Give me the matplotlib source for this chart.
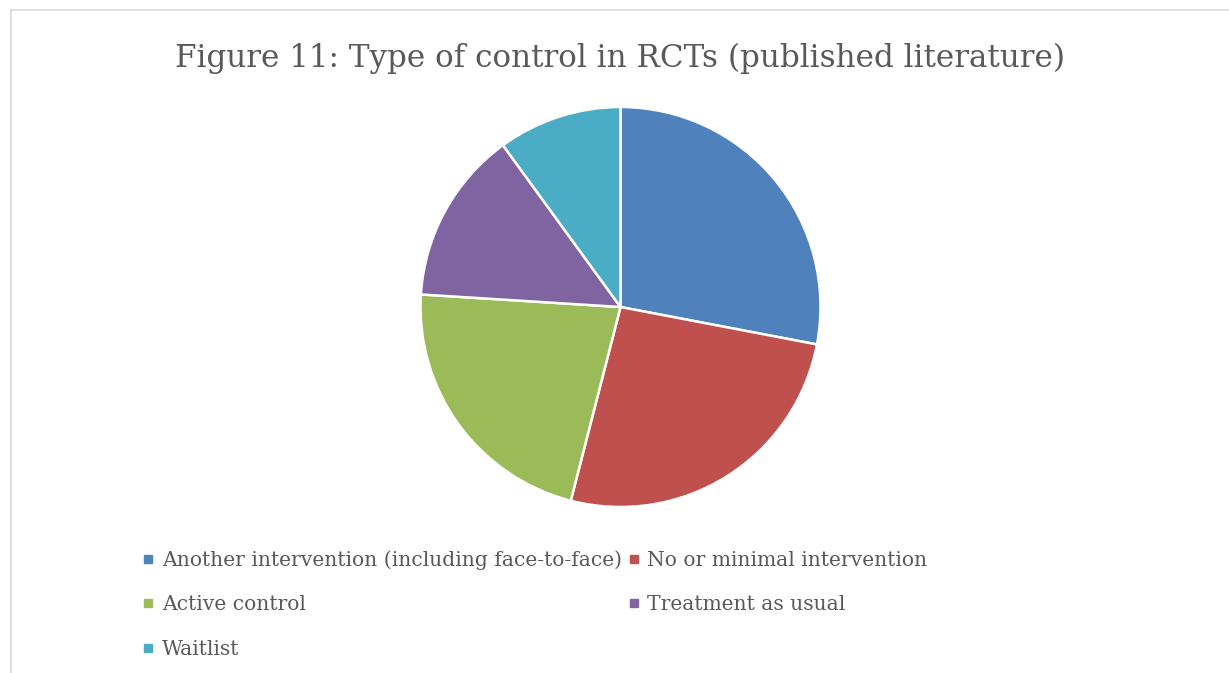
import matplotlib
matplotlib.use("Agg")
import matplotlib.pyplot as plt
from matplotlib.lines import Line2D

# control types reported across published RCTs
categories = [
    "Another intervention (including face-to-face)",
    "No or minimal intervention",
    "Active control",
    "Treatment as usual",
    "Waitlist",
]
counts = [14, 13, 11, 7, 5]
colors = ["#4F81BD", "#C0504D", "#9BBB59", "#8064A2", "#4BACC6"]

W, H = 1229, 673
fig = plt.figure(figsize=(W / 100, H / 100), dpi=100)
fig.patch.set_facecolor("white")

# chart-area border (top and left visible)
fig.add_artist(Line2D([10.5 / W, 1.0], [1 - 9.5 / H, 1 - 9.5 / H], color="#D9D9D9", lw=1.2))
fig.add_artist(Line2D([10.5 / W, 10.5 / W], [0.0, 1 - 9.5 / H], color="#D9D9D9", lw=1.2))

cx, cy, r = 620.5, 307, 200
ax = fig.add_axes([(cx - r) / W, (H - cy - r) / H, 2 * r / W, 2 * r / H])
ax.pie(counts, colors=colors, startangle=90, counterclock=False,
       wedgeprops=dict(edgecolor="white", linewidth=1.8))
ax.set_xlim(-1.0, 1.0)
ax.set_ylim(-1.0, 1.0)
ax.set_aspect("equal")
ax.axis("off")

fig.text(cx / W, 1 - 67 / H, "Figure 11: Type of control in RCTs (published literature)",
         ha="center", va="baseline", family="DejaVu Serif", fontsize=22.3, color="#595959")

# legend fills row by row: reorder for matplotlib's column-first layout
handles = [Line2D([], [], marker="s", linestyle="", markersize=6,
                  markerfacecolor=c, markeredgecolor=c) for c in colors]
order = [0, 2, 4, 1, 3]
leg = fig.legend([handles[i] for i in order], [categories[i] for i in order],
                 ncol=2, loc="upper left", bbox_to_anchor=(124 / W, 1 - 532 / H),
                 frameon=False, handlelength=0.6, handletextpad=0.36,
                 columnspacing=0.3, labelspacing=1.25,
                 prop=dict(family="DejaVu Serif", size=14.6))
for t in leg.get_texts():
    t.set_color("#595959")

fig.savefig("out.png", dpi=100, facecolor="white")
